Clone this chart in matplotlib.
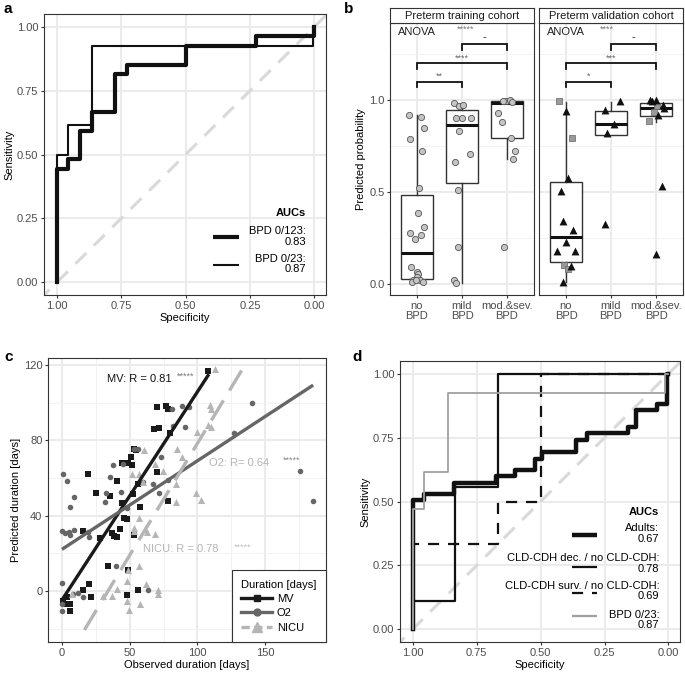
import numpy as np
import matplotlib
matplotlib.use("Agg")
import matplotlib.pyplot as plt
from matplotlib.lines import Line2D
from matplotlib.ticker import FixedLocator

plt.rcParams['font.family'] = ['Liberation Sans', 'DejaVu Sans']
plt.rcParams['font.size'] = 8
plt.rcParams['axes.edgecolor'] = '#333333'
plt.rcParams['axes.linewidth'] = 0.8
plt.rcParams['xtick.color'] = '#333333'
plt.rcParams['ytick.color'] = '#333333'
plt.rcParams['xtick.labelcolor'] = '#4d4d4d'
plt.rcParams['ytick.labelcolor'] = '#4d4d4d'

# ---------------- data ----------------
# panel a: ROC curves (specificity, sensitivity), step points
a_spec_123 = [1.0, 1.0, 0.955, 0.909, 0.864, 0.773, 0.727, 0.5, 0.227, 0.0]
a_sens_123 = [0.0, 0.444, 0.481, 0.593, 0.667, 0.815, 0.852, 0.926, 0.963, 1.0]
a_spec_23 = [1.0, 1.0, 0.955, 0.864, 0.006, 0.0]
a_sens_23 = [0.0, 0.5, 0.615, 0.923, 1.0, 1.0]
a_auc_labels = ['BPD 0/123:\n0.83', 'BPD 0/23:\n0.87']

# panel b: predicted probability per group
b_groups = ['no\nBPD', 'mild\nBPD', 'mod.&sev.\nBPD']
b_facets = ['Preterm training cohort', 'Preterm validation cohort']
# box stats: whislo, q1, median, q3, whishi
b_train_box = [[0.01, 0.025, 0.17, 0.486, 0.918],
               [0.004, 0.551, 0.864, 0.947, 0.98],
               [0.678, 0.793, 0.987, 0.995, 1.0]]
b_valid_box = [[0.013, 0.121, 0.255, 0.553, 0.991],
               [0.812, 0.812, 0.871, 0.94, 0.99],
               [0.882, 0.913, 0.958, 0.986, 1.0]]
# training cohort points (circles): value and jitter
b_train_no = [0.922, 0.906, 0.85, 0.788, 0.723, 0.52, 0.384, 0.279, 0.312, 0.268,
              0.246, 0.092, 0.067, 0.053, 0.036, 0.022, 0.022, 0.009, 0.013, 0.02]
b_train_no_jit = [-0.17, 0.08, 0.16, -0.16, 0.12, 0.04, 0.03, -0.16, 0.16, 0.08,
                  -0.04, -0.14, 0.01, 0.02, -0.01, -0.08, 0.07, -0.12, 0.14, -0.03]
b_train_mild = [0.982, 0.969, 0.976, 0.904, 0.904, 0.904, 0.833, 0.707, 0.661, 0.513, 0.199, 0.022, 0.004]
b_train_mild_jit = [-0.18, -0.07, 0.02, -0.14, 0.0, 0.19, -0.07, 0.18, -0.16, -0.1, -0.1, -0.17, -0.14]
b_train_mod = [0.995, 1.0, 0.991, 0.997, 0.931, 0.879, 0.793, 0.725, 0.678, 0.201]
b_train_mod_jit = [-0.03, 0.06, 0.12, -0.08, -0.2, -0.12, 0.09, 0.18, 0.13, -0.07]
# validation cohort points: triangles and squares
b_valid_no_tri = [0.942, 0.576, 0.507, 0.342, 0.292, 0.226, 0.179, 0.179, 0.1, 0.013]
b_valid_no_tri_jit = [0.0, 0.04, -0.11, -0.07, 0.16, 0.0, -0.19, 0.21, 0.1, -0.07]
b_valid_no_sq = [0.993, 0.795, 0.105, 0.08]
b_valid_no_sq_jit = [-0.16, 0.13, -0.04, 0.04]
b_valid_mild_tri = [0.996, 0.946, 0.873, 0.822, 0.324]
b_valid_mild_tri_jit = [0.19, -0.13, 0.06, -0.08, -0.13]
b_valid_mod_tri = [1.0, 1.0, 0.998, 0.976, 0.955, 0.922, 0.534, 0.161]
b_valid_mod_tri_jit = [-0.13, 0.0, -0.1, 0.15, 0.18, 0.04, 0.13, 0.0]
b_valid_mod_sq = [0.971, 0.935, 0.886]
b_valid_mod_sq_jit = [0.03, -0.05, -0.16]
# significance brackets
b_pairs = [(1, 2), (1, 3), (2, 3)]
b_levels = [1.10, 1.20, 1.305]
b_train_sig = ['**', '****', '-']
b_valid_sig = ['*', '***', '-']
b_anova = ['*****', '****']

# panel c: observed vs predicted duration (days)
c_mv_x = [108, 76.5, 78, 70, 68, 72, 80, 53, 55, 51, 49, 52, 44.3, 70, 19, 41, 56, 25, 35.3, 52.4,
          44, 78, 58, 46, 48, 15.3, 28.2, 36.8, 38.5, 40.3, 42.7, 53, 34.1, 49, 19.8, 15.7, 55.9,
          48.2, 21.2, 3.9, 1, 5.9, 5.9, 2.5]
c_mv_y = [117, 98.2, 96.5, 98, 86, 86.5, 84, 75.5, 75.2, 71.2, 68.2, 67, 68, 63.3, 62.2, 58.6, 57,
          52.3, 50.5, 51.8, 46.9, 47.9, 44.7, 38.7, 38.5, 32, 28.3, 31, 29.2, 28.6, 32.8, 29.6, 13.1,
          11.4, 3.9, 0.7, 0.4, -1.8, -3.2, -3.2, -5, -6.8, -10.6, -7]
c_o2_x = [81.6, 88.3, 93.8, 140, 82, 91, 127.4, 53.4, 56.3, 73, 44.8, 37.4, 175.8, 185.6, 35.7, 60.2,
          67.4, 78, 0.7, 3.4, 9.1, 5.9, 31.7, 32.5, 43.5, 72, 0, 2.2, 5.4, 9, 5.9, 19, 19.8, 39.8,
          -0.2, 63.2, 11.6, 15.7, 7.9, 0, 0, 48]
c_o2_y = [96.8, 98.2, 98, 100, 87.6, 87.4, 84.2, 75.7, 75.3, 71, 67.7, 66.8, 63.6, 47.9, 60.7, 58,
          56.7, 58.8, 62.4, 58.6, 50, 44.7, 47.2, 52.2, 52.6, 52.1, 32, 30.8, 31.4, 32.6, 29.6, 31.4,
          28.7, 13.1, 4.4, 0.4, -0.8, -3.2, -1.4, -6.7, -10.3, 44]
c_nicu_x = [113, 109, 110, 108, 110, 99.6, 84.8, 89, 60.7, 68.8, 74.5, 56.8, 84, 84, 99, 102.8, 56.8,
            53.4, 53.4, 61.7, 62.7, 68.8, 56.8, 48.9, 48.2, 62, 71, 71, 40.8, 30.5, 36.6, 48.2, 49.2,
            58, 7.4, 60, 52]
c_nicu_y = [118, 98.7, 96.8, 88, 87, 84.5, 75.7, 71.3, 75, 67.4, 63.8, 62, 57, 47.3, 52.3, 48.2, 39,
            33.7, 31.7, 33.1, 31.4, 30.5, 13.6, 11.4, 5.3, 3.9, 0.4, -1.4, 1.2, -2.8, -2.8, -5, -9.9,
            -6.7, -1.4, 58, 62]
# linear fits: (x start, x end, intercept, slope)
c_fit_mv = (0, 108.5, -4.7, 1.105)
c_fit_o2 = (0, 185.5, 22.2, 0.47)
c_fit_nicu = (16.6, 135, -40.3, 1.187)
c_series = ['MV', 'O2', 'NICU']
c_r_labels = ['MV: R = 0.81', 'O2: R= 0.64', 'NICU: R = 0.78']

# panel d: ROC curves
d_spec_adult = [1.0, 1.0, 0.957, 0.837, 0.676, 0.60, 0.521, 0.495, 0.361, 0.32, 0.159, 0.126, 0.043, 0.004, 0.0]
d_sens_adult = [0.0, 0.505, 0.53, 0.572, 0.598, 0.622, 0.668, 0.694, 0.739, 0.768, 0.791, 0.859, 0.883, 1.0, 1.0]
d_spec_dec = [1.0, 1.0, 0.833, 0.667, 0.0]
d_sens_dec = [0.0, 0.111, 0.556, 1.0, 1.0]
d_spec_surv = [1.0, 1.0, 0.667, 0.5, 0.0]
d_sens_surv = [0.0, 0.333, 0.5, 1.0, 1.0]
d_spec_bpd = [1.0, 1.0, 0.955, 0.864, 0.013, 0.0]
d_sens_bpd = [0.0, 0.47, 0.615, 0.923, 1.0, 1.0]
d_auc_labels = ['Adults:\n0.67', 'CLD-CDH dec. / no CLD-CDH:\n0.78',
                'CLD-CDH surv. / no CLD-CDH:\n0.69', 'BPD 0/23:\n0.87']

roc_ticks = [1.0, 0.75, 0.5, 0.25, 0.0]

W, H = 685, 675
fig = plt.figure(figsize=(W / 100, H / 100), dpi=100)


def px_axes(x0, y0, x1, y1):
    # figure pixel box (top-left origin) -> axes
    return fig.add_axes([x0 / W, 1 - y1 / H, (x1 - x0) / W, (y1 - y0) / H])


def style(ax):
    ax.set_axisbelow(True)
    ax.grid(True, which='major', color='#ebebeb', lw=1.5)
    ax.grid(True, which='minor', color='#f2f2f2', lw=0.7)
    ax.tick_params(which='major', length=2.5, width=0.8, pad=1.5)
    ax.tick_params(which='minor', length=0)


def roc_axes(ax):
    style(ax)
    ax.set_xlim(1.05, -0.045)
    ax.set_ylim(-0.05, 1.05)
    ax.set_xticks(roc_ticks)
    ax.set_yticks(roc_ticks)
    ax.set_xticklabels([f'{t:.2f}' for t in roc_ticks])
    ax.set_yticklabels([f'{t:.2f}' for t in roc_ticks])
    ax.set_xlabel('Specificity', labelpad=2)
    ax.set_ylabel('Sensitivity', labelpad=2)
    ax.axline((1, 0), (0, 1), color='#d9d9d9', lw=2.2, dashes=(5, 3.5), zorder=1)


def auc_legend(ax, labels, styles, text_x, text_y, key_y, key_x0, key_x1, title_y):
    ax.text(text_x, title_y, 'AUCs', transform=ax.transAxes, ha='right', va='center',
            fontweight='bold')
    for lab, st, ty, ky in zip(labels, styles, text_y, key_y):
        ax.text(text_x, ty, lab, transform=ax.transAxes, ha='right', va='center',
                multialignment='right', linespacing=1.05)
        ax.plot([key_x0, key_x1], [ky, ky], transform=ax.transAxes, clip_on=False,
                solid_capstyle='butt', dash_capstyle='butt', **st)


# ---------------- panel a ----------------
ax_a = px_axes(44, 14, 326, 295)
roc_axes(ax_a)
ax_a.plot(a_spec_123, a_sens_123, drawstyle='steps-post', color='#111111', lw=3.0, zorder=3)
ax_a.plot(a_spec_23, a_sens_23, drawstyle='steps-post', color='#111111', lw=1.5, zorder=4)
auc_legend(ax_a, a_auc_labels,
           [dict(color='#111111', lw=3.0), dict(color='#111111', lw=1.5)],
           0.929, [0.208, 0.11], [0.206, 0.107], 0.599, 0.691, 0.292)

# ---------------- panel b ----------------
facet_boxes = [(390, 534), (539, 683)]
train_pts = [(b_train_no, b_train_no_jit), (b_train_mild, b_train_mild_jit), (b_train_mod, b_train_mod_jit)]
valid_tri = [(b_valid_no_tri, b_valid_no_tri_jit), (b_valid_mild_tri, b_valid_mild_tri_jit),
             (b_valid_mod_tri, b_valid_mod_tri_jit)]
valid_sq = [(b_valid_no_sq, b_valid_no_sq_jit), ([], []), (b_valid_mod_sq, b_valid_mod_sq_jit)]

for k, (x0, x1) in enumerate(facet_boxes):
    ax = px_axes(x0, 23, x1, 295)
    style(ax)

    box = b_train_box if k == 0 else b_valid_box
    stats = [dict(whislo=b[0], q1=b[1], med=b[2], q3=b[3], whishi=b[4], fliers=[]) for b in box]
    ax.bxp(stats, positions=[1, 2, 3], widths=0.7, showfliers=False, showcaps=False,
           patch_artist=True, manage_ticks=False,
           boxprops=dict(facecolor='white', edgecolor='#333333', lw=1.0),
           medianprops=dict(color='#111111', lw=2.2, solid_capstyle='butt'),
           whiskerprops=dict(color='#333333', lw=1.0))

    ax.set_xlim(0.4, 3.6)
    ax.set_ylim(-0.06, 1.42)
    ax.set_yticks([0.0, 0.5, 1.0])
    ax.yaxis.set_minor_locator(FixedLocator([0.25, 0.75, 1.25]))
    ax.set_xticks([1, 2, 3])
    ax.set_xticklabels(b_groups, linespacing=1.0)
    if k == 0:
        ax.set_yticklabels(['0.0', '0.5', '1.0'])
        ax.set_ylabel('Predicted probability', labelpad=2)
    else:
        ax.tick_params(axis='y', labelleft=False, length=0)

    if k == 0:
        for g, (vals, jit) in enumerate(train_pts):
            ax.scatter(np.add(g + 1, jit), vals, s=20, marker='o', facecolor='#c4c4c4',
                       edgecolor='#555555', lw=0.6, zorder=3)
    else:
        for g, (vals, jit) in enumerate(valid_sq):
            if len(vals):
                ax.scatter(np.add(g + 1, jit), vals, s=14, marker='s', facecolor='#9a9a9a',
                           edgecolor='#666666', lw=0.5, zorder=3)
        for g, (vals, jit) in enumerate(valid_tri):
            ax.scatter(np.add(g + 1, jit), vals, s=32, marker='^', color='#111111',
                       lw=0, zorder=4)

    sig = b_train_sig if k == 0 else b_valid_sig
    for (i, j), lev, lab in zip(b_pairs, b_levels, sig):
        ax.plot([i, i, j, j], [lev - 0.03, lev, lev, lev - 0.03], color='#111111', lw=1.3,
                solid_joinstyle='miter')
        if lab == '-':
            ax.text((i + j) / 2, lev + 0.04, lab, ha='center', va='center', color='#222222')
        else:
            ax.text((i + j) / 2, lev + 0.03, lab, ha='center', va='center', fontsize=6.5,
                    color='#666666')
    ax.text(0.58, 1.37, 'ANOVA', ha='left', va='center', color='#222222')
    ax.text(1.88 if k == 0 else 1.76, 1.385, b_anova[k], ha='left', va='center',
            fontsize=6.5, color='#777777')

    sax = px_axes(x0, 8, x1, 23)
    sax.set_xticks([])
    sax.set_yticks([])
    sax.set_facecolor('white')
    sax.text(0.5, 0.45, b_facets[k], ha='center', va='center', transform=sax.transAxes,
             color='#1a1a1a')

# ---------------- panel c ----------------
ax_c = px_axes(48, 358, 326, 642)
style(ax_c)
ax_c.set_xlim(-10.3, 195)
ax_c.set_ylim(-27, 123.8)
ax_c.set_xticks([0, 50, 100, 150])
ax_c.set_yticks([0, 40, 80, 120])
ax_c.xaxis.set_minor_locator(FixedLocator([25, 75, 125, 175]))
ax_c.yaxis.set_minor_locator(FixedLocator([-20, 20, 60, 100]))
ax_c.set_xlabel('Observed duration [days]', labelpad=2)
ax_c.set_ylabel('Predicted duration [days]', labelpad=2)

col_mv, col_o2, col_nicu = '#1a1a1a', '#666666', '#b5b5b5'
ax_c.scatter(c_mv_x, c_mv_y, s=16, marker='s', color=col_mv, lw=0, zorder=3)
ax_c.scatter(c_o2_x, c_o2_y, s=16, marker='o', color=col_o2, lw=0, zorder=3)
ax_c.scatter(c_nicu_x, c_nicu_y, s=26, marker='^', color=col_nicu, lw=0, zorder=3)

for fit, col, extra in [(c_fit_mv, col_mv, {}), (c_fit_o2, col_o2, {}),
                        (c_fit_nicu, col_nicu, dict(dashes=(7, 3.5)))]:
    xs = np.array([fit[0], fit[1]])
    ax_c.plot(xs, fit[2] + fit[3] * xs, color=col, lw=2.4, zorder=4,
              solid_capstyle='butt', dash_capstyle='butt', **extra)

ax_c.text(33.2, 112.4, c_r_labels[0], ha='left', va='center', color='#111111')
ax_c.text(84.8, 114, '*****', ha='left', va='center', fontsize=6.5, color='#777777')
ax_c.text(108.9, 68, c_r_labels[1], ha='left', va='center', color='#b5b5b5')
ax_c.text(163, 69.5, '*****', ha='left', va='center', fontsize=6.5, color='#888888')
ax_c.text(60.2, 22.2, c_r_labels[2], ha='left', va='center', color='#b5b5b5')
ax_c.text(126.6, 23.4, '*****', ha='left', va='center', fontsize=6.5, color='#c0c0c0')

handles = [Line2D([], [], color=col_mv, lw=2.4, marker='s', ms=5),
           Line2D([], [], color=col_o2, lw=2.4, marker='o', ms=5),
           Line2D([], [], color=col_nicu, lw=2.4, marker='^', ms=6.5, dashes=(2.5, 1.3))]
leg = ax_c.legend(handles, c_series, title='Duration [days]', loc='lower right',
                  borderaxespad=0, frameon=True, fancybox=False, edgecolor='#333333',
                  framealpha=1, alignment='left', handlelength=2.8, labelspacing=0.38,
                  borderpad=0.85, handletextpad=0.4, title_fontsize=8)
leg.get_frame().set_linewidth(0.8)

# ---------------- panel d ----------------
ax_d = px_axes(400, 361, 680, 642)
roc_axes(ax_d)
ax_d.plot(d_spec_adult, d_sens_adult, drawstyle='steps-post', color='#111111', lw=3.2, zorder=3)
ax_d.plot(d_spec_dec, d_sens_dec, drawstyle='steps-post', color='#111111', lw=1.6, zorder=4)
ax_d.plot(d_spec_surv, d_sens_surv, drawstyle='steps-post', color='#111111', lw=1.6,
          dashes=(5, 4), zorder=4)
ax_d.plot(d_spec_bpd, d_sens_bpd, drawstyle='steps-post', color='#a0a0a0', lw=1.3, zorder=5)
auc_legend(ax_d, d_auc_labels,
           [dict(color='#111111', lw=3.2), dict(color='#111111', lw=1.6),
            dict(color='#111111', lw=1.6, dashes=(5, 4)), dict(color='#a0a0a0', lw=1.6)],
           0.926, [0.386, 0.28, 0.182, 0.078], [0.381, 0.266, 0.173, 0.093], 0.613, 0.702, 0.464)

# panel letters
for lab, (x, y) in zip('abcd', [(4, 9), (344, 9), (4, 357), (352, 357)]):
    fig.text(x / W, 1 - y / H, lab, fontsize=11, fontweight='bold', ha='left', va='center')

fig.savefig('out.png', dpi=100)
